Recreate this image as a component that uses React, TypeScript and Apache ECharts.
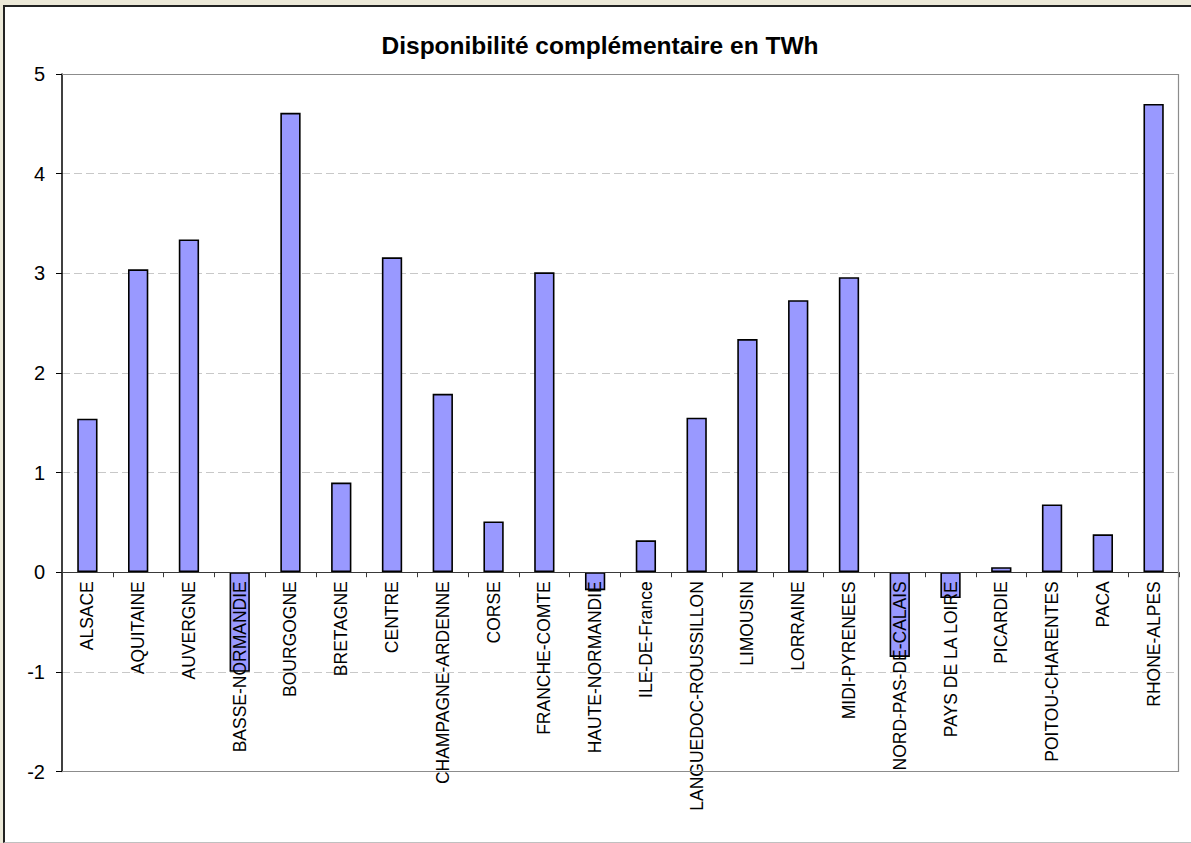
import React, { useEffect, useRef } from "react";
import * as echarts from "echarts";

const categories: string[] = [
  "ALSACE",
  "AQUITAINE",
  "AUVERGNE",
  "BASSE-NORMANDIE",
  "BOURGOGNE",
  "BRETAGNE",
  "CENTRE",
  "CHAMPAGNE-ARDENNE",
  "CORSE",
  "FRANCHE-COMTE",
  "HAUTE-NORMANDIE",
  "ILE-DE-France",
  "LANGUEDOC-ROUSSILLON",
  "LIMOUSIN",
  "LORRAINE",
  "MIDI-PYRENEES",
  "NORD-PAS-DE-CALAIS",
  "PAYS DE LA LOIRE",
  "PICARDIE",
  "POITOU-CHARENTES",
  "PACA",
  "RHONE-ALPES",
];

const values: number[] = [
  1.54, 3.04, 3.34, -1.0, 4.61, 0.9, 3.16, 1.79, 0.51, 3.01, -0.18, 0.32,
  1.55, 2.34, 2.73, 2.96, -0.85, -0.26, 0.05, 0.68, 0.38, 4.7,
];

const title = "Disponibilité complémentaire en TWh";
const yMin = -2;
const yMax = 5;
const yStep = 1;

const W = 1191;
const H = 843;
const GRID = { left: 62, top: 74, right: 1179, bottom: 771.5 };
const FONT = "'Liberation Sans', Arial, sans-serif";

export default function App() {
  const ref = useRef<HTMLDivElement>(null);

  useEffect(() => {
    if (!ref.current) return;
    const chart = echarts.init(ref.current, null, { renderer: "svg" });
    const gridH = GRID.bottom - GRID.top;
    const zeroOffset = -((0 - yMin) / (yMax - yMin)) * gridH;
    chart.setOption({
      animation: false,
      backgroundColor: "transparent",
      textStyle: { fontFamily: FONT },
      grid: {
        left: GRID.left,
        top: GRID.top,
        right: W - GRID.right,
        bottom: H - GRID.bottom,
        containLabel: false,
        outerBoundsMode: "none",
      },
      graphic: [
        {
          type: "text",
          x: 600,
          y: 45,
          z: 20,
          style: {
            text: title,
            fontFamily: FONT,
            fontSize: 24.5,
            fontWeight: "bold",
            fill: "#000",
            textAlign: "center",
            textVerticalAlign: "middle",
          },
        },
        {
          type: "polyline",
          z: 20,
          silent: true,
          shape: {
            points: [
              [GRID.left, GRID.top + 0.5],
              [GRID.right - 0.5, GRID.top + 0.5],
              [GRID.right - 0.5, GRID.bottom],
              [GRID.left, GRID.bottom],
            ],
          },
          style: { stroke: "#8c8c8c", lineWidth: 1.2, fill: null },
        },
      ],
      xAxis: {
        type: "category",
        data: categories,
        position: "bottom",
        offset: zeroOffset,
        z: 6,
        axisLine: { show: true, onZero: false, lineStyle: { color: "#3a3a3a", width: 1.2 } },
        axisTick: { show: true, inside: false, length: 5, lineStyle: { color: "#3a3a3a", width: 1 } },
        axisLabel: {
          rotate: 90,
          interval: 0,
          fontSize: 17.5,
          margin: 9,
          color: "#000",
          fontFamily: FONT,
        },
        splitLine: { show: false },
      },
      yAxis: {
        type: "value",
        min: yMin,
        max: yMax,
        interval: yStep,
        axisLine: { show: true, lineStyle: { color: "#000", width: 1.5 } },
        axisTick: { show: true, inside: false, length: 6, lineStyle: { color: "#000", width: 1 } },
        axisLabel: { fontSize: 20, margin: 17, color: "#000", fontFamily: FONT },
        splitLine: {
          show: true,
          lineStyle: { color: "#c8c8c8", type: [8, 4], width: 1 },
        },
      },
      series: [
        {
          type: "bar",
          data: values,
          barWidth: "40%",
          itemStyle: { color: "#9999FF", borderColor: "#000", borderWidth: 1.6 },
        },
      ],
    });
    return () => chart.dispose();
  }, []);

  return (
    <div
      style={{
        position: "fixed",
        left: 0,
        top: 0,
        width: W,
        height: H,
        background: "#ECE9D8",
        overflow: "hidden",
      }}
    >
      <div
        style={{
          position: "absolute",
          left: 3,
          top: 5,
          width: 1200,
          height: 835,
          background: "#fff",
          borderLeft: "2px solid #222",
          borderTop: "2px solid #222",
          borderBottom: "1px solid #c0c0c0",
        }}
      />
      <div ref={ref} style={{ position: "absolute", left: 0, top: 0, width: W, height: H }} />
    </div>
  );
}
